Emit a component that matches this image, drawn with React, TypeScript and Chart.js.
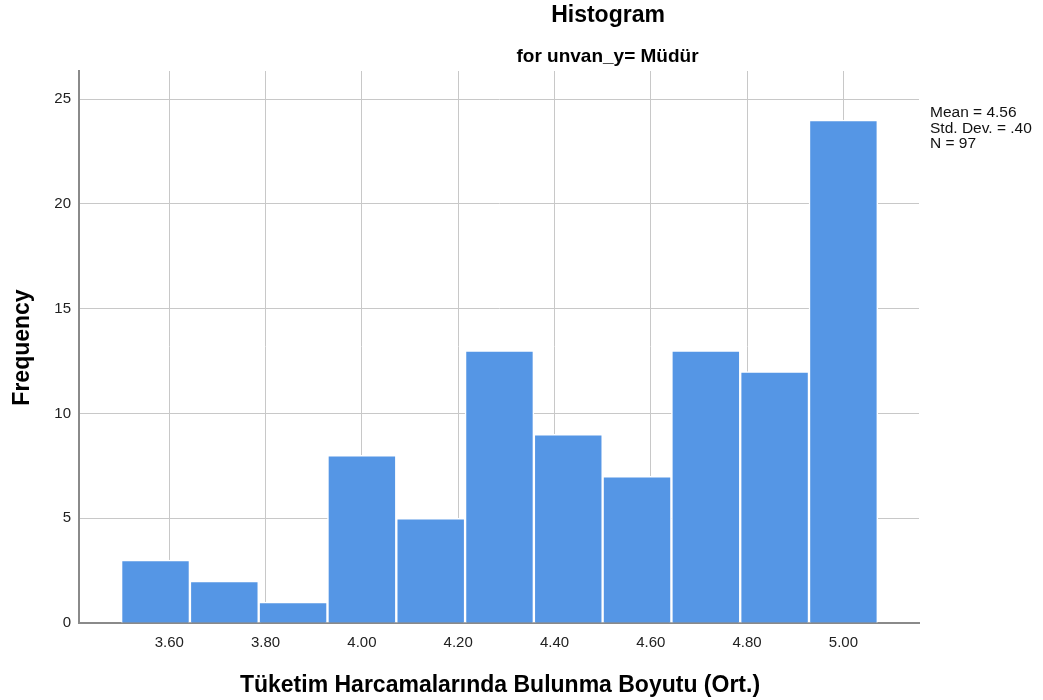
import React, { useEffect, useRef } from "react";
import { Chart, registerables } from "chart.js";

Chart.register(...registerables);

const binCenters = [3.5714, 3.7143, 3.8571, 4.0, 4.1429, 4.2857, 4.4286, 4.5714, 4.7143, 4.8571, 5.0];
const frequencies = [3, 2, 1, 8, 5, 13, 9, 7, 13, 12, 24];
const xTickValues = [3.6, 3.8, 4.0, 4.2, 4.4, 4.6, 4.8, 5.0];
const yTickValues = [0, 5, 10, 15, 20, 25];
const statsLines = ["Mean = 4.56", "Std. Dev. = .40", "N = 97"];
const titleText = "Histogram";
const subtitleText = "for unvan_y= Müdür";
const xTitle = "Tüketim Harcamalarında Bulunma Boyutu (Ort.)";
const yTitle = "Frequency";

const FONT = '"Liberation Sans", Arial, sans-serif';

const textPlugin = {
  id: "spssTexts",
  afterDraw(chart: any) {
    const ctx = chart.ctx as CanvasRenderingContext2D;
    ctx.save();
    ctx.fillStyle = "#000";
    ctx.textAlign = "center";
    ctx.textBaseline = "alphabetic";
    ctx.font = `bold 23px ${FONT}`;
    ctx.fillText(titleText, 608, 22);
    ctx.font = `bold 19px ${FONT}`;
    ctx.fillText(subtitleText, 607.5, 62);
    ctx.font = `bold 23px ${FONT}`;
    ctx.fillText(xTitle, 500, 692);
    ctx.save();
    ctx.translate(29, 347.5);
    ctx.rotate(-Math.PI / 2);
    ctx.fillText(yTitle, 0, 0);
    ctx.restore();
    ctx.textAlign = "left";
    ctx.font = `15.5px ${FONT}`;
    ctx.fillStyle = "#111";
    const baselines = [117, 132.5, 147.5];
    statsLines.forEach((s, i) => ctx.fillText(s, 930, baselines[i]));
    ctx.restore();
  },
};

export default function App() {
  const ref = useRef<HTMLCanvasElement | null>(null);
  useEffect(() => {
    if (!ref.current) return;
    const chart = new Chart(ref.current, {
      type: "bar",
      data: {
        datasets: [
          {
            data: binCenters.map((x, i) => ({ x, y: frequencies[i] })),
            backgroundColor: "#5596E5",
            borderColor: "#ffffff",
            borderWidth: 1.5,
            barPercentage: 1,
            categoryPercentage: 1,
          } as any,
        ],
      },
      options: {
        responsive: false,
        animation: false,
        layout: { padding: { left: 0, right: 124, top: 71, bottom: 0 } },
        plugins: { legend: { display: false }, tooltip: { enabled: false } },
        scales: {
          x: {
            type: "linear",
            min: 3.4125,
            max: 5.157,
            offset: false,
            afterBuildTicks: (scale: any) => {
              scale.ticks = xTickValues.map((v) => ({ value: v }));
            },
            afterFit: (scale: any) => {
              scale.height = 77;
            },
            grid: { color: "#c8c8c8", lineWidth: 1, drawTicks: false, offset: false },
            border: { display: true, color: "#8a8a8a", width: 2 },
            ticks: {
              padding: 11,
              color: "#222",
              font: { family: FONT, size: 15 },
              callback: (v: any) => Number(v).toFixed(2),
              maxRotation: 0,
              autoSkip: false,
            },
          },
          y: {
            type: "linear",
            min: 0,
            max: 26.34,
            afterBuildTicks: (scale: any) => {
              scale.ticks = yTickValues.map((v) => ({ value: v }));
            },
            afterFit: (scale: any) => {
              scale.width = 79;
            },
            grid: { color: "#c8c8c8", lineWidth: 1, drawTicks: false },
            border: { display: true, color: "#8a8a8a", width: 2 },
            ticks: {
              padding: 8,
              color: "#222",
              font: { family: FONT, size: 15 },
              callback: (v: any) => String(v),
            },
          },
        },
      },
      plugins: [textPlugin],
    });
    return () => chart.destroy();
  }, []);
  return (
    <div style={{ position: "absolute", left: 0, top: 0, width: 1043, height: 700, background: "#fff" }}>
      <canvas ref={ref} width={1043} height={700} />
    </div>
  );
}
